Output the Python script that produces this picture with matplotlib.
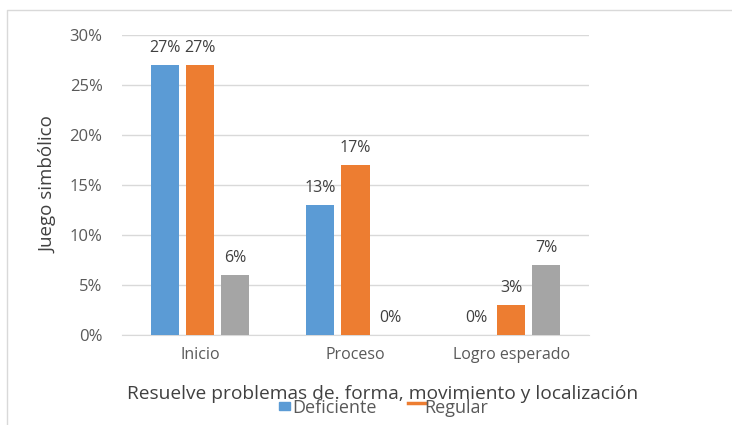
import matplotlib
matplotlib.use("Agg")
import matplotlib.pyplot as plt
from matplotlib.lines import Line2D
from matplotlib.patches import Rectangle
import numpy as np

categories = ["Inicio", "Proceso", "Logro esperado"]
deficiente = [27, 13, 0]
regular = [27, 17, 3]
bueno = [6, 0, 7]
yticks = [0, 5, 10, 15, 20, 25, 30]

series = [("Deficiente", deficiente, "#5B9BD5"),
          ("Regular", regular, "#ED7D31"),
          ("Bueno", bueno, "#A5A5A5")]

plt.rcParams["font.family"] = ["Open Sans", "DejaVu Sans"]
txt = "#595959"

fig = plt.figure(figsize=(7.32, 4.25), dpi=100)
ax = fig.add_axes([0.1667, 0.2118, 0.6379, 0.7058])

x = np.arange(len(categories))
width = 0.18
step = 0.225
for i, (name, vals, col) in enumerate(series):
    pos = x + (i - 1) * step
    ax.bar(pos, vals, width, color=col, label=name, zorder=3)
    for p, v in zip(pos, vals):
        ax.text(p, v + 1.3, f"{v}%", ha="center", va="baseline",
                fontsize=11.5, color="#404040")

ax.set_xlim(-0.5, 2.5)
ax.set_ylim(0, 30)
ax.set_yticks(yticks)
ax.set_yticklabels([f"{t}%" for t in yticks])
ax.set_xticks(x)
ax.set_xticklabels(categories)
ax.tick_params(axis="y", length=0, labelsize=12, colors=txt, pad=14)
ax.tick_params(axis="x", length=0, labelsize=11.5, colors=txt, pad=9)
ax.grid(axis="y", color="#D9D9D9", linewidth=1, zorder=0)
for s in ["top", "right", "left"]:
    ax.spines[s].set_visible(False)
ax.spines["bottom"].set_color("#D9D9D9")

ax.set_ylabel("Juego simbólico", fontsize=13.5, color="#404040", labelpad=9)
fig.text(0.523, 0.074, "Resuelve problemas de. forma, movimiento y localización",
         ha="center", va="center", fontsize=13.8, color="#404040")

# legend (first two entries)
fig.add_artist(Rectangle((0.381, 0.035), 0.015, 0.019, color="#5B9BD5",
                         transform=fig.transFigure))
fig.text(0.399, 0.040, "Deficiente", ha="left", va="center",
         fontsize=13, color=txt)
fig.add_artist(Line2D([0.557, 0.582], [0.052, 0.052], color="#ED7D31",
                      linewidth=2.5, transform=fig.transFigure))
fig.text(0.580, 0.040, "Regular", ha="left", va="center",
         fontsize=13, color=txt)

# chart area frame
fig.add_artist(Line2D([0.0096, 0.0096, 1.0], [0.0, 0.976, 0.976],
                      color="#D9D9D9", linewidth=1, transform=fig.transFigure))

fig.savefig("out.png", dpi=100, facecolor="white")
